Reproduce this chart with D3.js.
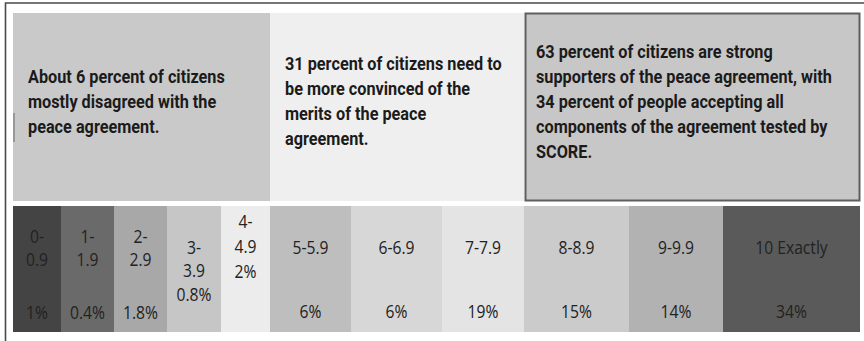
<!DOCTYPE html>
<html>
<head>
<meta charset="utf-8">
<script src="https://cdn.jsdelivr.net/npm/d3@7"></script>
<style>
  body { margin: 0; background: #fff; }
  svg { display: block; }
</style>
</head>
<body>
<div id="chart"></div>
<script>
// score bands and share of citizens in each
const categories = ["0-0.9","1-1.9","2-2.9","3-3.9","4-4.9","5-5.9","6-6.9","7-7.9","8-8.9","9-9.9","10"]
const rangeLabels = [["0-","0.9"],["1-","1.9"],["2-","2.9"],["3-","3.9"],["4-","4.9"],["5-5.9"],["6-6.9"],["7-7.9"],["8-8.9"],["9-9.9"],["10 Exactly"]]
const percents = [1, 0.4, 1.8, 0.8, 2, 6, 6, 19, 15, 14, 34]
const shades = ["#444444","#6a6a6a","#a8a8a8","#c6c6c6","#ececec","#bebebe","#d7d7d7","#e4e4e4","#cbcbcb","#b2b2b2","#5a5a5a"]

// the three summary groups above the strip
const groups = ["disagree","convince","support"]
const groupFirst = [0, 5, 8]
const groupLast = [4, 7, 10]
const groupText = [
    ["About 6 percent of citizens","mostly disagreed with the","peace agreement."],
    ["31 percent of citizens need to","be more convinced of the","merits of the peace","agreement."],
    ["63 percent of citizens are strong","supporters of the peace agreement, with","34 percent of people accepting all","components of the agreement tested by","SCORE."]
]
const groupFill = ["#c9c9c9","#efefef","#c7c7c7"]

// layout
const width = 864, height = 341
const colEdges = [13, 61, 114, 167, 221, 270, 351, 442, 524, 629, 723, 860]
const boxTop = 13, boxBottom = 201, stripTop = 206, stripBottom = 332
// vertical spots of each label line, per column (last one is the percent)
const labelRows = [[236,259,312],[236,259,312],[236,259,312],[247,270,294],[221,246,271],
                   [247,311],[247,311],[247,311],[247,311],[247,311],[247,311]]

const x0 = d3.scaleOrdinal().domain(categories).range(colEdges.slice(0, -1))
const x1 = d3.scaleOrdinal().domain(categories).range(colEdges.slice(1))
const fill = d3.scaleOrdinal().domain(categories).range(shades)

const svg = d3.select("#chart").append("svg")
    .attr("width", width)
    .attr("height", height)

// outer frame (top and left only)
svg.append("path")
    .attr("d", "M5.5," + height + "V3H" + width)
    .attr("fill", "none")
    .attr("stroke", "#4a4a4a")
    .attr("stroke-width", 1.6)

// summary boxes
const box = svg.selectAll("g.box")
    .data(groups)
    .enter()
    .append("g")
    .attr("class", "box")

box.append("rect")
    .attr("x", (d,i) => x0(categories[groupFirst[i]]) + (i == 2 ? 1.5 : 0))
    .attr("y", (d,i) => boxTop + (i == 2 ? 0.5 : 0))
    .attr("width", (d,i) => x1(categories[groupLast[i]]) - x0(categories[groupFirst[i]]) - (i == 2 ? 2 : 0))
    .attr("height", (d,i) => boxBottom - boxTop - (i == 2 ? 1 : 0))
    .attr("fill", (d,i) => groupFill[i])
    .attr("stroke", (d,i) => i == 2 ? "#5e5e5e" : "none")
    .attr("stroke-width", 2)

const lineH = 25
const midY = (boxTop + boxBottom) / 2 + 0.5
box.each(function(d, i){
    const lines = groupText[i]
    const left = x0(categories[groupFirst[i]]) + (i == 2 ? 12 : 15)
    const firstY = midY - (lines.length - 1) * lineH / 2
    d3.select(this).selectAll("text")
        .data(lines)
        .enter()
        .append("text")
        .attr("transform", (t,j) => "translate(" + left + "," + (firstY + j*lineH) + ") scale(0.93,1)")
        .attr("font-family", "Roboto, sans-serif")
        .attr("font-weight", 700)
        .attr("font-size", 17.5)
        .attr("fill", "#1b1b1b")
        .text(t => t)
})

// little stray tick at the left of the first box
svg.append("line")
    .attr("x1", 14).attr("x2", 14)
    .attr("y1", 113).attr("y2", 142)
    .attr("stroke", "#777")
    .attr("stroke-width", 1.2)

// score strip
const col = svg.selectAll("g.col")
    .data(categories)
    .enter()
    .append("g")
    .attr("class", "col")

col.append("rect")
    .attr("x", d => x0(d))
    .attr("y", stripTop)
    .attr("width", d => x1(d) - x0(d))
    .attr("height", stripBottom - stripTop)
    .attr("fill", d => fill(d))

col.each(function(d, i){
    const cx = (x0(d) + x1(d)) / 2
    const lines = rangeLabels[i].concat([percents[i] + "%"])
    d3.select(this).selectAll("text")
        .data(lines)
        .enter()
        .append("text")
        .attr("transform", (t,j) => "translate(" + cx + "," + labelRows[i][j] + ") scale(0.87,1)")
        .attr("text-anchor", "middle")
        .attr("dominant-baseline", "central")
        .attr("font-family", "'Open Sans', sans-serif")
        .attr("font-size", 18)
        .attr("fill", "#222")
        .text(t => t)
})
</script>
</body>
</html>
